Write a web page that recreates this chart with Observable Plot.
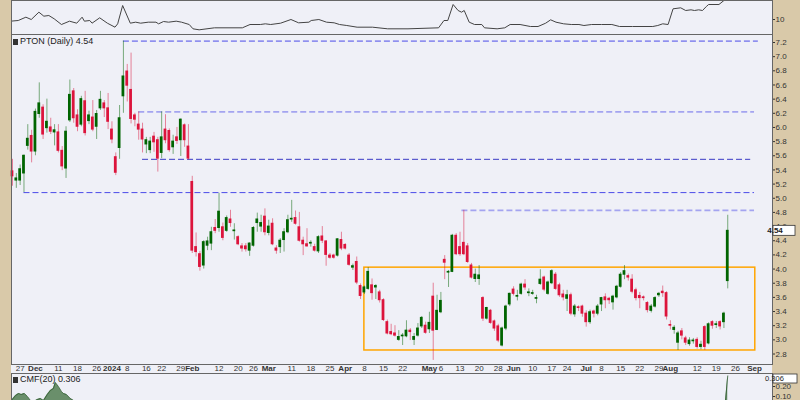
<!DOCTYPE html>
<html><head><meta charset="utf-8">
<script src="https://cdn.jsdelivr.net/npm/d3@7"></script>
<script src="https://cdn.jsdelivr.net/npm/@observablehq/plot@0.6"></script>
<style>
body{margin:0;background:#d9c9a9;}
#wrap{position:relative;width:800px;height:400px;overflow:hidden;background:#d9c9a9;font-family:"Liberation Sans",Arial,sans-serif;}
#bg{position:absolute;left:11px;top:0;width:761px;height:400px;background:#eff0f7;}
.panel{position:absolute;left:0;}
.panel svg{display:block;color:#333;}
.hdr{position:absolute;font-size:9px;color:#222;white-space:nowrap;line-height:10px;}
.ico{display:inline-block;width:5px;height:6px;background:#333;margin-right:2px;vertical-align:-1px;}
</style></head>
<body><div id="wrap"><div id="bg"></div>
<div class="panel" id="top" style="top:0"></div>
<div class="panel" id="main" style="top:34px"></div>
<div class="panel" id="cmf" style="top:373px"></div>
<div class="hdr" style="left:13px;top:36px"><span class="ico"></span>PTON (Daily) 4.54</div>
<div class="hdr" style="left:13px;top:374px"><span class="ico"></span>CMF(20) 0.306</div>
</div>
<script>
// ---- daily candles, index 0 = 2023-11-22 ... 187 = 2024-08-22 ----
const opens = [5.38,5.25,5.25,5.35,5.74,5.88,5.66,6.19,6.28,5.99,6.00,5.93,5.93,5.67,5.42,6.10,6.51,6.17,6.04,6.37,6.09,6.14,6.01,6.27,6.34,6.27,5.97,5.58,5.71,6.44,
6.79,6.53,6.17,6.04,5.97,5.76,5.68,5.87,5.82,5.64,5.97,5.95,5.72,5.86,5.82,6.03,5.73,5.23,4.31,4.21,4.05,4.33,4.36,4.58,4.58,4.59,4.54,4.70,4.535,4.45,
4.32,4.32,4.26,4.33,4.65,4.60,4.74,4.51,4.64,4.29,4.31,4.41,4.52,4.70,4.72,4.59,4.40,4.35,4.36,4.31,4.25,4.46,4.39,4.19,4.19,4.19,4.41,4.34,4.19,4.02,
4.10,3.76,3.67,3.72,3.77,3.74,3.67,3.56,3.25,3.11,3.09,3.00,3.05,3.05,3.13,3.00,3.06,3.19,3.20,3.15,3.61,3.14,3.39,4.13,3.95,3.96,4.47,4.31,4.37,4.32,
4.05,3.86,3.86,3.59,3.30,3.41,3.26,3.19,2.92,3.16,3.50,3.71,3.61,3.65,3.78,3.66,3.65,3.58,3.79,3.88,3.65,3.80,3.92,3.77,3.64,3.58,3.63,3.36,3.46,3.47,
3.37,3.25,3.40,3.37,3.50,3.60,3.58,3.53,3.60,3.75,3.92,3.90,3.85,3.70,3.62,3.60,3.52,3.41,3.47,3.63,3.68,3.66,3.21,3.14,2.96,3.12,3.02,2.94,2.98,3.00,
2.90,3.18,2.95,3.25,3.21,3.25,3.25,3.83];
const highs = [5.55,5.35,5.47,5.61,6.04,5.96,6.26,6.63,6.32,6.40,6.13,6.04,6.04,5.73,6.01,6.67,6.55,6.25,6.44,6.51,6.23,6.38,6.24,6.51,6.38,6.48,6.08,5.64,6.31,7.22,
6.89,7.05,6.20,6.22,6.06,5.86,5.86,5.93,5.86,6.22,6.18,5.98,5.89,6.00,6.12,6.05,6.04,5.31,4.51,4.25,4.40,4.45,4.59,4.70,5.07,4.65,4.75,4.83,4.64,4.47,
4.36,4.36,4.37,4.60,4.79,4.76,4.85,4.69,4.71,4.33,4.43,4.57,4.76,4.97,4.82,4.80,4.45,4.57,4.40,4.35,4.47,4.60,4.40,4.22,4.21,4.43,4.52,4.36,4.22,4.07,
4.17,3.79,3.76,4.02,3.86,3.78,3.70,3.58,3.28,3.22,3.20,3.13,3.09,3.27,3.16,3.09,3.23,3.33,3.25,3.39,3.80,3.63,3.67,4.19,3.98,4.49,4.50,4.52,4.83,4.36,
4.08,4.00,4.05,3.61,3.46,3.43,3.28,3.22,3.18,3.49,3.66,3.75,3.70,3.80,3.85,3.72,3.70,3.63,3.99,3.90,3.83,3.99,3.95,3.80,3.70,3.70,3.66,3.50,3.48,3.49,
3.41,3.42,3.42,3.50,3.60,3.65,3.60,3.63,3.77,3.95,4.05,3.93,3.92,3.73,3.67,3.62,3.54,3.50,3.61,3.67,3.76,3.68,3.27,3.20,3.12,3.16,3.05,3.03,3.02,3.03,
2.98,3.20,3.24,3.27,3.26,3.27,3.39,4.76];
const lows = [5.17,5.14,5.18,5.08,5.68,5.50,5.60,6.13,5.83,5.92,5.90,5.74,5.64,5.39,5.28,6.07,6.06,5.94,6.01,5.88,6.04,5.94,5.83,6.24,6.14,5.97,5.77,5.32,5.55,6.20,
6.36,6.05,6.01,5.82,5.64,5.63,5.63,5.65,5.37,5.56,5.77,5.65,5.62,5.76,5.59,5.72,5.54,4.22,4.17,3.97,4.00,4.26,4.26,4.50,4.52,4.40,4.52,4.59,4.41,4.33,
4.24,4.24,4.18,4.31,4.52,4.52,4.47,4.47,4.33,4.21,4.22,4.24,4.50,4.66,4.62,4.38,4.19,4.31,4.31,4.24,4.22,4.36,4.04,4.14,4.14,4.17,4.26,4.27,4.04,3.98,
3.78,3.57,3.64,3.70,3.56,3.57,3.52,3.26,3.07,3.06,3.04,2.98,2.92,3.03,2.99,2.92,3.04,3.16,3.08,3.09,2.71,3.13,3.37,3.85,3.74,3.95,4.19,4.18,4.19,4.08,
3.86,3.81,3.77,3.26,3.28,3.22,3.12,2.96,2.90,3.13,3.47,3.62,3.55,3.63,3.70,3.61,3.63,3.51,3.77,3.68,3.63,3.78,3.70,3.60,3.55,3.40,3.34,3.32,3.40,3.32,
3.18,3.22,3.31,3.34,3.40,3.44,3.50,3.42,3.58,3.73,3.85,3.83,3.65,3.55,3.44,3.55,3.38,3.38,3.45,3.60,3.60,3.28,3.14,3.08,2.85,3.00,2.92,2.91,2.94,2.87,
2.86,2.85,2.93,3.15,3.16,3.14,3.16,3.72];
const closes = [5.31,5.28,5.41,5.60,5.84,5.66,6.22,6.34,5.90,6.08,5.94,5.96,5.67,5.45,5.94,6.46,6.13,6.01,6.40,5.92,6.17,5.97,6.19,6.39,6.27,6.08,5.83,5.36,6.13,6.72,
6.59,6.12,6.11,5.97,5.83,5.82,5.80,5.79,5.56,5.86,5.82,5.68,5.80,5.81,6.11,5.82,5.56,4.26,4.24,4.03,4.38,4.39,4.52,4.54,4.81,4.44,4.72,4.65,4.545,4.35,
4.29,4.28,4.36,4.58,4.70,4.65,4.52,4.60,4.35,4.26,4.40,4.52,4.69,4.71,4.64,4.40,4.35,4.32,4.37,4.26,4.45,4.40,4.20,4.16,4.16,4.42,4.29,4.29,4.06,4.04,
3.81,3.62,3.74,3.96,3.66,3.76,3.56,3.28,3.09,3.08,3.06,3.04,3.06,3.13,3.11,3.04,3.16,3.31,3.10,3.24,3.13,3.41,3.55,4.09,3.96,4.47,4.21,4.21,4.21,4.10,
3.88,3.92,3.91,3.30,3.45,3.24,3.16,2.99,3.16,3.47,3.65,3.65,3.62,3.78,3.74,3.67,3.66,3.59,3.85,3.71,3.81,3.97,3.72,3.63,3.60,3.63,3.37,3.47,3.45,3.37,
3.25,3.39,3.37,3.47,3.59,3.56,3.56,3.61,3.75,3.92,3.97,3.88,3.68,3.59,3.59,3.59,3.42,3.47,3.59,3.65,3.66,3.33,3.20,3.17,3.09,3.06,2.96,2.99,2.99,2.90,
2.93,2.90,3.22,3.20,3.22,3.19,3.37,4.54];

// ---- date axis (trading-day index -> label) ----
const dayTicks   = [2,12,17,22,30,35,39,44,54,59,63,73,78,83,92,97,102,112,117,122,127,136,141,145,154,159,164,169,179,184,189];
const dayLabels  = ["27","11","18","26","8","16","22","29","12","20","26","11","18","25","8","15","22","6","13","20","28","10","17","24","8","15","22","29","12","19","26"];
const monthTicks = [6,26,47,67,87,109,131,150,172,194];
const monthLabels= ["Dec","2024","Feb","Mar","Apr","May","Jun","Jul","Aug","Sep"];
const priceTicks = [2.8,3.0,3.2,3.4,3.6,3.8,4.0,4.2,4.4,4.6,4.8,5.0,5.2,5.4,5.6,5.8,6.0,6.2,6.4,6.6,6.8,7.0,7.2];

// ---- annotation lines and box ----
const levelVals   = [7.22, 6.22, 5.55, 5.08, 4.83];
const levelStart  = [29, 33, 34, 3, 117.5];
const levelEnd    = [195, 194, 193, 194, 194];
const levelColors = ["#4b4be8", "#a4a4f0", "#3a3ac4", "#4b4be8", "#a4a4f0"];
const levelWidths = [1, 1.7, 1, 1, 1.7];
const boxStart = [92], boxEnd = [194.2], boxLow = [2.85], boxHigh = [4.02];

// ---- upper indicator line ----
const topIdx = [-0.5,1.5,3.5,4.9,6.9,8.2,9.5,10.9,12.8,14.9,16.8,18.2,18.8,20.2,20.8,22.8,24.8,26.8,27.5,28.8,30.8,32.2,33.5,35.5,37.5,38.2,39.5,40.8,42.8,44.2,46.2,47.2,48.8,52.8,60.1,62.1,64.8,66.1,67.5,70.1,72.8,74.8,77.5,78.1,80.1,82.1,84.1,85.5,87.4,90.1,94.1,98.1,103.4,111.4,112.8,113.8,115.2,116.5,117.4,118.1,119.4,120.8,122.7,123.4,126.7,128.7,130.1,132.7,135.4,137.4,139.4,140.7,142.1,144.1,146.1,148.1,149.4,151.4,154,156.7,158.7,162.1,167.4,168.7,170,171.4,172.7,174.7,176,177.4,178.3,179.4,180.4,181.4,182,184.7,186,187];
const topVal = [9.58,9.75,10.58,10.0,11.83,10.83,11.0,10.17,8.75,9.58,9.08,10.58,9.58,9.75,9.08,10.42,9.08,8.08,8.92,13.5,9.08,9.33,9.08,9.33,9.33,8.92,9.5,9.33,9.58,9.33,8.75,7.67,7.42,7.92,7.92,8.75,8.75,8.92,8.75,9.08,10.0,9.17,9.33,9.75,10.0,9.33,9.17,8.75,8.5,8.08,8.08,7.67,7.67,7.92,9.75,9.75,13.75,12.25,11.83,12.25,9.33,8.75,8.75,7.92,7.67,7.92,8.75,8.75,8.25,8.25,9.08,9.92,9.33,8.92,8.75,8.75,8.5,8.75,8.75,8.75,8.25,8.25,8.25,8.5,8.92,8.75,12.67,12.92,12.25,12.42,12.25,12.42,12.25,13.25,13.75,13.75,14.75,15.5];

// ---- CMF(20) ----
const cmfIdx = [-0.5,0.8,1.6,2.3,3.1,3.9,4.7,5.6,6.5,7.3,8.1,9.1,9.9,10.7,11.2,12,12.8,13.3,14.1,15.1,16.4,17.5,185,186.4,187];
const cmfVal = [0.05,0.11,0.13,0.12,0.13,0.10,0.06,0.05,0.07,0.08,0.06,0.12,0.16,0.18,0.24,0.20,0.15,0.13,0.12,0.08,0.05,0.03,0.03,0.05,0.306];

const GREEN = "#006400", RED = "#dc143c";
const xDomain = [-0.26, 198.7];
const common = {width: 800, marginLeft: 11, marginRight: 28, style: {background: "transparent", fontFamily: "Liberation Sans, Arial, sans-serif"}};

const candles = opens.map((o, i) => ({i, o, h: highs[i], l: lows[i], c: closes[i]}));
const levels = levelVals.map((v, k) => ({v, s: levelStart[k], e: levelEnd[k], col: levelColors[k], w: levelWidths[k]}));
const box = boxStart.map((s, k) => ({s, e: boxEnd[k], lo: boxLow[k], hi: boxHigh[k]}));
const topData = topIdx.map((x, k) => ({x, v: topVal[k]}));
const cmfData = cmfIdx.map((x, k) => ({x, v: cmfVal[k]}));

// top panel
const topChart = Plot.plot({...common, height: 35, marginTop: 0, marginBottom: 1,
  x: {domain: xDomain, axis: null},
  y: {domain: [6.25, 14.75], axis: null},
  marks: [
    Plot.line(topData, {x: "x", y: "v", stroke: "#444", strokeWidth: 1, clip: true}),
    Plot.axisY([10], {anchor: "right", label: null, tickSize: 2, tickPadding: 1, fontSize: 8}),
    Plot.frame({stroke: "#666"})
  ]});
document.getElementById("top").appendChild(topChart);

// main panel
const mainChart = Plot.plot({...common, height: 339, marginTop: 0, marginBottom: 9,
  x: {domain: xDomain},
  y: {domain: [2.652, 7.313]},
  marks: [
    Plot.ruleY(levels, {y: "v", x1: "s", x2: "e", stroke: d => d.col, strokeWidth: d => d.w, strokeDasharray: "6,3"}),
    Plot.rect(box, {x1: "s", x2: "e", y1: "lo", y2: "hi", fill: "none", stroke: "#ffa500", strokeWidth: 1.5}),
    Plot.ruleX(candles, {x: "i", y1: "l", y2: "h", stroke: d => d.c >= d.o ? GREEN : RED, strokeOpacity: 0.5, strokeWidth: 1}),
    Plot.rect(candles, {x1: d => d.i - 0.36, x2: d => d.i + 0.36, y1: "o", y2: "c",
      fill: d => d.c >= d.o ? GREEN : RED, insetTop: -0.5, insetBottom: -0.5}),
    Plot.axisY(priceTicks, {anchor: "right", label: null, tickSize: 2, tickPadding: 1, fontSize: 8, tickFormat: d3.format(".1f")}),
    Plot.axisX(dayTicks, {anchor: "bottom", label: null, tickSize: 0, tickPadding: 1, fontSize: 8, tickFormat: (d, k) => dayLabels[k]}),
    Plot.axisX(monthTicks, {anchor: "bottom", label: null, tickSize: 0, tickPadding: 1, fontSize: 8, fontWeight: "bold", tickFormat: (d, k) => monthLabels[k]}),
    Plot.frame({stroke: "#666"})
  ]});
document.getElementById("main").appendChild(mainChart);
{
  const yv = mainChart.scale("y").apply(closes[closes.length - 1]);
  const g = d3.select(mainChart).append("g");
  g.append("rect").attr("x", 773).attr("y", yv - 5).attr("width", 22).attr("height", 10).attr("fill", "#fff").attr("stroke", "#333").attr("stroke-width", 0.8);
  g.append("text").attr("x", 775).attr("y", yv + 3).attr("font-size", 8).attr("font-weight", "bold").attr("fill", "#222").text(closes[closes.length - 1].toFixed(2));
}

// CMF panel
const cmfChart = Plot.plot({...common, height: 27, marginTop: 0, marginBottom: 0,
  x: {domain: xDomain, axis: null},
  y: {domain: [0.06, 0.33], axis: null},
  marks: [
    Plot.areaY(cmfData, {x: "x", y: "v", fill: "#5b845b", fillOpacity: 0.9, clip: true}),
    Plot.line(cmfData, {x: "x", y: "v", stroke: "#2f5a2f", strokeWidth: 0.8, clip: true}),
    Plot.axisY([0.1, 0.2], {anchor: "right", label: null, tickSize: 2, tickPadding: 1, fontSize: 8, tickFormat: d3.format(".2f")}),
    Plot.frame({stroke: "#666"})
  ]});
document.getElementById("cmf").appendChild(cmfChart);
{
  const last = cmfVal[cmfVal.length - 1];
  const yv = Math.max(cmfChart.scale("y").apply(last), 5);
  const g = d3.select(cmfChart).append("g");
  g.append("rect").attr("x", 773).attr("y", yv - 4).attr("width", 24).attr("height", 9).attr("fill", "#fff").attr("stroke", "#333").attr("stroke-width", 0.8);
  g.append("text").attr("x", 774.5).attr("y", yv + 3).attr("font-size", 7.5).attr("fill", "#222").text(last.toFixed(3));
}
</script>
</body></html>
